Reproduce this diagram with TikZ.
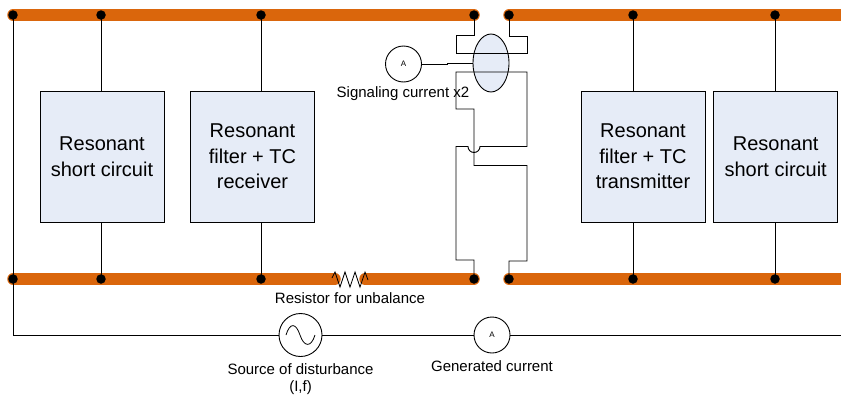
\documentclass[tikz,border=0pt]{standalone}
\usepackage{fontspec}
\setmainfont{Liberation Sans}
\usetikzlibrary{shapes}
\definecolor{railorange}{HTML}{DA660C}
\definecolor{boxblue}{HTML}{E6ECF7}
\tikzset{
  rail/.style={line width=11.5pt, railorange, line cap=round},
  wire/.style={line width=0.9pt, black},
  joint/.style={circle, fill=black, inner sep=0pt, minimum size=9.5pt},
  filterbox/.style={draw=black, line width=0.9pt, fill=boxblue, minimum width=124pt, minimum height=131pt, align=center, font=\fontsize{20}{25.5}\selectfont},
  meter/.style={circle, draw=black, line width=0.9pt, fill=white, inner sep=0pt, minimum size=36pt, font=\fontsize{8}{9}\selectfont},
  caption/.style={inner sep=0pt, align=center, font=\fontsize{15}{17}\selectfont}
}
\begin{document}
\begin{tikzpicture}[x=1pt, y=-1pt]
\useasboundingbox (0,0) rectangle (841,399);
%%% rails %%%
      \coordinate (top left) at (13,15);
      \coordinate (bot left) at (13,279);
      \coordinate (top end) at (848,15);
      \coordinate (bot end) at (848,279);
      \coordinate (res a) at (335,279);
      \coordinate (res b) at (365,279);
      \foreach \x in {13,101,261,474,509,633,775}
      {
        \coordinate (t\x) at (\x,15);
        \coordinate (b\x) at (\x,279);
      }
      \draw[rail] (t13) -- (t474);
      \draw[rail] (t509) -- (top end);
      \draw[rail] (b13) -- (res a);
      \draw[rail] (res b) -- (b474);
      \draw[rail] (b509) -- (bot end);
      %% resistor
      \draw[wire, line width=0.8pt] (332,278) -- (335,272) -- (340,287) -- (345,272) -- (350,287) -- (355,272) -- (360,287) -- (365,272) -- (368,280);
%%% measuring loop %%%
      \node[ellipse, draw=black, line width=0.9pt, fill=boxblue, minimum width=36pt, minimum height=58pt, inner sep=0pt] (core) at (491,63) {};
      \node[meter] (meter up) at (403.5,64) {A};
      \draw[wire] (t474) -- (474,35) -- (456,35) -- (456,53) -- (527,53) -- (527,36) -- (509,36) -- (t509);
      \draw[wire] (b474) -- (474,260) -- (456,260) -- (456,146.5) -- (468,146.5) arc[start angle=180, end angle=0, radius=6] -- (527,146.5) -- (527,72) -- (456,72) -- (456,109) -- (474,109) -- (474,165.5) -- (527,165.5) -- (527,261) -- (509,261) -- (b509);
      \draw[wire] (meter up) -- (447,64) -- (447,63) -- (core.west);
%%% boxes %%%
      \node[filterbox] (short left) at (102,156.5) {Resonant\\short circuit};
      \node[filterbox] (filter rx) at (252.5,156.5) {Resonant\\filter + TC\\receiver};
      \node[filterbox] (filter tx) at (643,156.5) {Resonant\\filter + TC\\transmitter};
      \node[filterbox] (short right) at (775.7,156.5) {Resonant\\short circuit};
      \draw[wire] (t101) -- (t101 |- short left.north);
      \draw[wire] (b101) -- (b101 |- short left.south);
      \draw[wire] (t261) -- (t261 |- filter rx.north);
      \draw[wire] (b261) -- (b261 |- filter rx.south);
      \draw[wire] (t633) -- (t633 |- filter tx.north);
      \draw[wire] (b633) -- (b633 |- filter tx.south);
      \draw[wire] (t775) -- (t775 |- short right.north);
      \draw[wire] (b775) -- (b775 |- short right.south);
%%% disturbance line %%%
      \node[meter, minimum size=43pt] (source) at (300.5,335) {};
      \node[meter] (meter down) at (492,335) {A};
      \coordinate (line end) at (841,335);
      \draw[wire] (t13) -- (13,335) -- (source);
      \draw[wire] (source) -- (meter down);
      \draw[wire] (meter down) -- (line end);
      \draw[wire, line width=0.8pt] (286,335) .. controls (290,322) and (296,323) .. (300,335) .. controls (304,347) and (311,348) .. (315,335);
      %% joints on top
      \foreach \x in {13,101,261,474,509,633,775}
      {
        \node[joint] (dot t\x) at (t\x) {};
        \node[joint] (dot b\x) at (b\x) {};
      }
%%% labels %%%
      \node[caption] (label signal) at (403,94) {Signaling current x2};
      \node[caption] (label res) at (350,298) {Resistor for unbalance};
      \node[caption] (label source) at (300.5,379) {Source of disturbance\\(I,f)};
      \node[caption] (label gen) at (492,366) {Generated current};
\end{tikzpicture}
\end{document}
